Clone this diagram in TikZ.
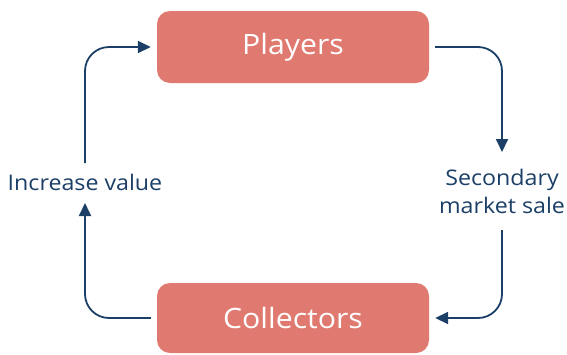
\documentclass[tikz,border=0pt]{standalone}
\usepackage{fontspec}
\setmainfont[FakeStretch=1.08]{Open Sans}
\usetikzlibrary{arrows.meta}
\definecolor{boxred}{HTML}{E07A70}
\definecolor{navy}{HTML}{1B3F66}
\begin{document}
\begin{tikzpicture}[x=1pt,y=-1pt,
 box/.style={fill=boxred, rounded corners=13pt, minimum width=272pt, minimum height=72pt, text=white, font=\fontsize{28}{32}\selectfont, inner sep=0pt},
 lbl/.style={text=navy, font=\fontsize{21.5}{28}\selectfont, align=center, inner sep=0pt},
 conn/.style={draw=navy, line width=1.8pt, rounded corners=24pt},
 tip/.style={-{Triangle[length=13pt,width=12pt]}}]
\useasboundingbox (0,0) rectangle (567,354);
\node[box] (p) at (293,47) {Players};
\node[box, minimum height=70pt] (c) at (293,318) {Collectors};
\node[lbl] (iv) at (85,182) {Increase value};
\node[lbl] (ms) at (502,191) {Secondary\\market sale};
\coordinate (l1) at (85,203);
\coordinate (l2) at (85,163);
\coordinate (r1) at (502,152);
\coordinate (r2) at (502,230);
\draw[conn,tip] ([xshift=6pt]p.east) -| (r1);
\draw[conn,tip] (r2) |- ([xshift=6pt]c.east);
\draw[conn,tip] ([xshift=-6pt]c.west) -| (l1);
\draw[conn,tip] (l2) |- ([xshift=-6pt]p.west);
\end{tikzpicture}
\end{document}
